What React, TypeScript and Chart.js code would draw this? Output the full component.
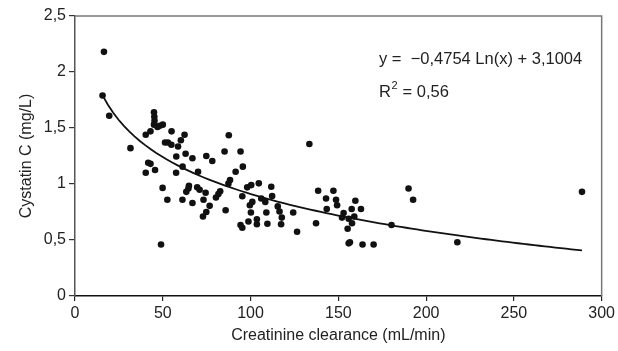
import { useEffect, useRef } from "react";
import { Chart, registerables } from "chart.js";

Chart.register(...registerables);

// Creatinine clearance (mL/min) for each patient
const clearance = [
  16.5, 15.7, 19.5, 31.6, 40.3, 43.0, 45.0, 45.2, 45.3, 45.0,
  47.0, 48.3, 50.0, 55.0, 51.3, 52.9, 54.9, 58.7, 60.3, 62.4,
  57.7, 63.0, 66.9, 61.3, 41.7, 43.0, 45.6, 40.3, 57.6, 70.1,
  49.9, 52.6, 61.2, 64.9, 64.6, 63.4, 66.9, 69.6, 49.0, 71.0,
  74.4, 74.8, 78.2, 87.6, 85.2, 94.3, 95.6, 91.5, 88.3, 87.4,
  82.7, 81.7, 80.3, 73.2, 76.7, 74.8, 72.9, 85.8, 95.3, 98.1,
  100.4, 104.7, 111.8, 112.3, 106.1, 108.4, 101.0, 99.6, 100.2, 109.0,
  94.3, 95.3, 98.8, 103.6, 103.6, 109.6, 115.5, 116.5, 117.8, 117.4,
  124.3, 126.5, 133.5, 137.3, 138.5, 143.0, 143.4, 147.2, 148.7, 149.3,
  153.0, 152.1, 155.9, 157.6, 159.7, 162.9, 159.1, 157.8, 155.3, 155.9,
  156.6, 163.8, 170.1, 180.3, 190.0, 192.6, 217.8, 288.8,
];

// Cystatin C (mg/L) for the same patients
const cystatin = [
  2.18, 1.79, 1.61, 1.32, 1.44, 1.47, 1.64, 1.60, 1.565, 1.53,
  1.51, 1.52, 1.53, 1.47, 1.37, 1.37, 1.35, 1.335, 1.39, 1.44,
  1.245, 1.27, 1.23, 1.155, 1.19, 1.18, 1.125, 1.10, 1.10, 1.11,
  0.965, 0.86, 0.86, 0.985, 0.96, 0.93, 0.83, 0.97, 0.46, 0.948,
  0.922, 1.25, 1.205, 1.435, 1.29, 1.29, 1.155, 1.11, 1.035, 1.003,
  0.935, 0.91, 0.88, 0.86, 0.805, 0.75, 0.71, 0.765, 0.89, 0.97,
  0.99, 1.006, 0.976, 0.893, 0.87, 0.84, 0.84, 0.81, 0.745, 0.745,
  0.634, 0.61, 0.665, 0.685, 0.64, 0.645, 0.80, 0.755, 0.70, 0.64,
  0.745, 0.574, 1.357, 0.65, 0.94, 0.87, 0.777, 0.94, 0.86, 0.81,
  0.74, 0.70, 0.69, 0.777, 0.85, 0.777, 0.71, 0.65, 0.60, 0.47,
  0.48, 0.46, 0.46, 0.634, 0.96, 0.86, 0.48, 0.93,
];

const xTickValues = [0, 50, 100, 150, 200, 250, 300];
const yTickValues = [0, 0.5, 1, 1.5, 2, 2.5];

// Logarithmic regression: y = a·ln(x) + b
const TREND_SLOPE = -0.4754;
const TREND_INTERCEPT = 3.1004;
const R_SQUARED = 0.56;

const FONT = '"Liberation Sans", Arial, Helvetica, sans-serif';
const TEXT = "#222";

const decimalComma = (v: number, digits?: number) =>
  (digits === undefined ? String(v) : v.toFixed(digits)).replace(".", ",");

export default function App() {
  const canvasRef = useRef<HTMLCanvasElement | null>(null);

  useEffect(() => {
    const canvas = canvasRef.current;
    if (!canvas) return;

    const points = clearance.map((x, i) => ({ x, y: cystatin[i] }));

    const xMin = Math.min(...clearance);
    const xMax = Math.max(...clearance);
    const steps = 90;
    const trend = Array.from({ length: steps + 1 }, (_, i) => {
      const x = xMin + ((xMax - xMin) * i) / steps;
      return { x, y: TREND_SLOPE * Math.log(x) + TREND_INTERCEPT };
    });

    const frameAndEquation = {
      id: "frameAndEquation",
      afterDraw(chart: Chart) {
        const { ctx, chartArea } = chart;
        ctx.save();
        // top and right frame lines
        ctx.strokeStyle = "#777";
        ctx.lineWidth = 1.5;
        ctx.beginPath();
        ctx.moveTo(chartArea.left, chartArea.top);
        ctx.lineTo(chartArea.right, chartArea.top);
        ctx.lineTo(chartArea.right, chartArea.bottom);
        ctx.stroke();

        // regression equation
        const sign = TREND_INTERCEPT >= 0 ? "+" : "\u2212";
        const eq = `y =  \u2212${decimalComma(Math.abs(TREND_SLOPE), 4)} Ln(x) ${sign} ${decimalComma(
          Math.abs(TREND_INTERCEPT),
          4
        )}`;
        const ex = chartArea.left + 304;
        ctx.fillStyle = TEXT;
        ctx.textBaseline = "middle";
        ctx.textAlign = "left";
        ctx.font = `16.5px ${FONT}`;
        ctx.fillText(eq, ex, chartArea.top + 43);

        const ry = chartArea.top + 76;
        ctx.fillText("R", ex, ry);
        const rw = ctx.measureText("R").width;
        ctx.font = `11px ${FONT}`;
        ctx.fillText("2", ex + rw + 0.5, ry - 6);
        const sw = ctx.measureText("2").width;
        ctx.font = `16.5px ${FONT}`;
        ctx.fillText(` = ${decimalComma(R_SQUARED)}`, ex + rw + sw + 1, ry);
        ctx.restore();
      },
    };

    const chart = new Chart(canvas, {
      type: "scatter",
      data: {
        datasets: [
          {
            data: points,
            backgroundColor: "#111",
            borderWidth: 0,
            pointRadius: 3.3,
            pointHoverRadius: 3.3,
          },
          {
            data: trend,
            showLine: true,
            borderColor: "#111",
            borderWidth: 1.8,
            pointRadius: 0,
            fill: false,
          },
        ],
      },
      options: {
        animation: false,
        responsive: false,
        devicePixelRatio: 1,
        layout: { padding: { left: 0, top: 16, right: 15, bottom: 0 } },
        plugins: { legend: { display: false }, tooltip: { enabled: false } },
        scales: {
          x: {
            type: "linear",
            min: 0,
            max: 300,
            afterBuildTicks: (scale: any) => {
              scale.ticks = xTickValues.map((value) => ({ value }));
            },
            afterFit: (scale: any) => {
              scale.height = 55;
            },
            ticks: {
              font: { family: FONT, size: 16 },
              color: TEXT,
              padding: 3,
              maxRotation: 0,
              callback: (v: any) => decimalComma(Number(v)),
            },
            grid: {
              display: true,
              drawOnChartArea: false,
              drawTicks: true,
              tickLength: 5,
              color: "#222",
              lineWidth: 1.2,
            },
            border: { display: true, color: "#111", width: 1.5 },
            title: {
              display: true,
              text: "Creatinine clearance (mL/min)",
              font: { family: FONT, size: 16 },
              color: TEXT,
              padding: { top: 4, bottom: 6 },
            },
          },
          y: {
            type: "linear",
            min: 0,
            max: 2.5,
            afterBuildTicks: (scale: any) => {
              scale.ticks = yTickValues.map((value) => ({ value }));
            },
            afterFit: (scale: any) => {
              scale.width = 75;
            },
            ticks: {
              font: { family: FONT, size: 16 },
              color: TEXT,
              padding: 3,
              callback: (v: any) => decimalComma(Number(v)),
            },
            grid: {
              display: true,
              drawOnChartArea: false,
              drawTicks: true,
              tickLength: 6,
              color: "#333",
              lineWidth: 1.2,
            },
            border: { display: true, color: "#555", width: 1.5 },
            title: {
              display: true,
              text: "Cystatin C (mg/L)",
              font: { family: FONT, size: 16 },
              color: TEXT,
              padding: { top: 17, bottom: 0 },
            },
          },
        },
      },
      plugins: [frameAndEquation],
    });

    return () => chart.destroy();
  }, []);

  return (
    <div style={{ position: "fixed", left: 0, top: 0, width: 618, height: 351, background: "#fff" }}>
      <canvas ref={canvasRef} width={618} height={351} style={{ display: "block" }} />
    </div>
  );
}
